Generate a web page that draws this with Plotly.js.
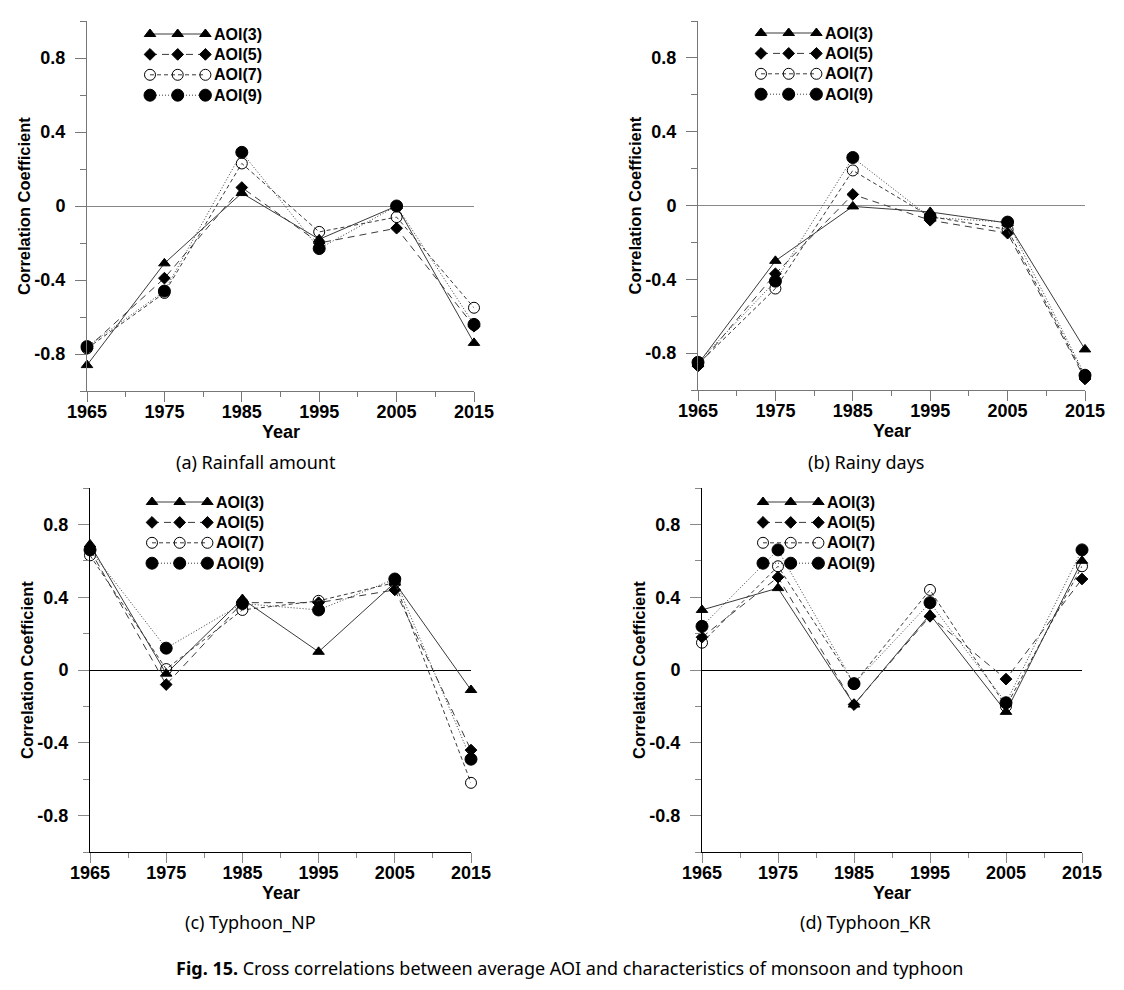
<!DOCTYPE html>
<html>
<head>
<meta charset="utf-8">
<script src="https://cdn.plot.ly/plotly-3.0.1.min.js"></script>
<style>html,body{margin:0;padding:0;background:#fff;}#chart{width:1124px;height:990px;}</style>
</head>
<body>
<div id="chart"></div>
<script>
// ---------------- data ----------------
const years = [1965, 1975, 1985, 1995, 2005, 2015];
const seriesNames = ["AOI(3)", "AOI(5)", "AOI(7)", "AOI(9)"];
const yTickVals = [-0.8, -0.4, 0, 0.4, 0.8];
const yTickText = ["-0.8", "-0.4", "0", "0.4", "0.8"];
const xTickVals = [1965, 1975, 1985, 1995, 2005, 2015];
const xTickText = ["1965", "1975", "1985", "1995", "2005", "2015"];
const panelCaptions = ["(a) Rainfall amount", "(b) Rainy days", "(c) Typhoon_NP", "(d) Typhoon_KR"];

// (a) Rainfall amount
const rainAOI3 = [-0.86, -0.31, 0.07, -0.18, 0.00, -0.74];
const rainAOI5 = [-0.77, -0.39, 0.10, -0.20, -0.12, -0.65];
const rainAOI7 = [-0.77, -0.47, 0.23, -0.14, -0.06, -0.55];
const rainAOI9 = [-0.76, -0.46, 0.29, -0.23, 0.00, -0.64];
// (b) Rainy days
const daysAOI3 = [-0.86, -0.30, -0.005, -0.035, -0.095, -0.78];
const daysAOI5 = [-0.87, -0.37, 0.06, -0.08, -0.15, -0.94];
const daysAOI7 = [-0.86, -0.45, 0.19, -0.06, -0.13, -0.93];
const daysAOI9 = [-0.85, -0.41, 0.26, -0.065, -0.09, -0.92];
// (c) Typhoon_NP
const npAOI3 = [0.69, -0.02, 0.39, 0.10, 0.48, -0.11];
const npAOI5 = [0.66, -0.08, 0.37, 0.37, 0.44, -0.44];
const npAOI7 = [0.63, 0.005, 0.33, 0.38, 0.48, -0.62];
const npAOI9 = [0.66, 0.12, 0.365, 0.33, 0.50, -0.49];
// (d) Typhoon_KR
const krAOI3 = [0.33, 0.45, -0.19, 0.305, -0.23, 0.60];
const krAOI5 = [0.18, 0.51, -0.19, 0.295, -0.05, 0.50];
const krAOI7 = [0.15, 0.57, -0.075, 0.44, -0.20, 0.57];
const krAOI9 = [0.24, 0.66, -0.075, 0.37, -0.18, 0.66];

const panelData = [
  [rainAOI3, rainAOI5, rainAOI7, rainAOI9],
  [daysAOI3, daysAOI5, daysAOI7, daysAOI9],
  [npAOI3, npAOI5, npAOI7, npAOI9],
  [krAOI3, krAOI5, krAOI7, krAOI9]
];

// ---------------- styles ----------------
const W = 1124, H = 990;
const lineCol = "#3a3a3a";
const styles = [
  {symbol: "triangle-up", size: 10, dash: "solid", fill: "#000"},
  {symbol: "diamond", size: 9, dash: "7px,5px", fill: "#000"},
  {symbol: "circle-open", size: 11, dash: "4px,3px", fill: "#000"},
  {symbol: "circle", size: 12, dash: "1px,2px", fill: "#000"}
];
// panel boxes in pixels: left, right, top, bottom
const boxes = [
  {l: 87, r: 474, t: 21, b: 391, axis: "#777", zero: "#888", tick: "#777"},
  {l: 698, r: 1085, t: 21, b: 390, axis: "#777", zero: "#888", tick: "#777"},
  {l: 90, r: 471, t: 488, b: 852, axis: "#000", zero: "#000", tick: "#888"},
  {l: 702, r: 1082, t: 488, b: 852, axis: "#000", zero: "#000", tick: "#888"}
];
const legendAnchors = [
  {x: 150, y: 34}, {x: 761, y: 33}, {x: 152, y: 502}, {x: 763, y: 502}
];
const tickFont = {family: "Liberation Sans, Arial, sans-serif", size: 18, color: "#000", weight: "bold"};

const traces = [];
const layout = {
  width: W, height: H,
  margin: {l: 0, r: 0, t: 0, b: 0},
  paper_bgcolor: "#fff", plot_bgcolor: "rgba(0,0,0,0)",
  showlegend: false,
  annotations: [],
  font: {family: "Liberation Sans, Arial, sans-serif", color: "#000"}
};

boxes.forEach((bx, p) => {
  const n = p + 1;
  const xa = "xaxis" + (n === 1 ? "" : n), ya = "yaxis" + (n === 1 ? "" : n);
  const xr = "x" + (n === 1 ? "" : n), yr = "y" + (n === 1 ? "" : n);
  layout[xa] = {
    domain: [bx.l / W, bx.r / W], anchor: yr,
    range: [1965, 2015], tickmode: "array", tickvals: xTickVals, ticktext: xTickText,
    ticks: "outside", ticklen: 10, tickwidth: 1, tickcolor: bx.tick,
    minor: {dtick: 5, tick0: 1965, ticks: "outside", ticklen: 5, tickcolor: bx.tick, showgrid: false},
    showline: true, linecolor: bx.axis, linewidth: 1, mirror: false,
    showgrid: false, zeroline: false, tickfont: tickFont, ticklabelstandoff: -6, fixedrange: true
  };
  layout[ya] = {
    domain: [1 - bx.b / H, 1 - bx.t / H], anchor: xr,
    range: [-1, 1], tickmode: "array", tickvals: yTickVals, ticktext: yTickText,
    ticks: "outside", ticklen: 11, tickwidth: 1, tickcolor: bx.tick,
    minor: {dtick: 0.2, tick0: -1, ticks: "outside", ticklen: 6, tickcolor: bx.tick, showgrid: false},
    showline: true, linecolor: bx.axis, linewidth: 1,
    showgrid: false, zeroline: true, zerolinecolor: bx.zero, zerolinewidth: 1,
    tickfont: tickFont, ticklabelstandoff: 6, fixedrange: true
  };
  panelData[p].forEach((vals, s) => {
    const st = styles[s];
    traces.push({
      type: "scatter", mode: "lines+markers", x: years, y: vals, xaxis: xr, yaxis: yr,
      name: seriesNames[s], cliponaxis: false,
      line: {color: lineCol, width: 1, dash: st.dash},
      marker: {symbol: st.symbol, size: st.size, color: st.fill, line: {color: "#000", width: 1}}
    });
  });
  // axis titles
  layout.annotations.push({
    xref: "paper", yref: "paper", x: (bx.l - 63) / W, y: 1 - ((bx.t + bx.b) / 2) / H,
    text: "<b>Correlation Coefficient</b>", textangle: -90, showarrow: false,
    font: {family: "Liberation Sans, Arial, sans-serif", size: 16.5, color: "#000"},
    xanchor: "center", yanchor: "middle"
  });
  layout.annotations.push({
    xref: "paper", yref: "paper", x: (bx.l + bx.r) / 2 / W, y: 1 - (bx.b + 41) / H,
    text: "<b>Year</b>", showarrow: false,
    font: {family: "Liberation Sans, Arial, sans-serif", size: 18, color: "#000"},
    xanchor: "center", yanchor: "middle"
  });
});

// legend overlay axis in page pixels
layout.xaxis5 = {domain: [0, 1], range: [0, W], visible: false, fixedrange: true, anchor: "y5"};
layout.yaxis5 = {domain: [0, 1], range: [H, 0], visible: false, fixedrange: true, anchor: "x5"};
const legStep = 27.7, rowStep = 20.4;
legendAnchors.forEach((a) => {
  seriesNames.forEach((nm, s) => {
    const st = styles[s];
    const yy = a.y + s * rowStep;
    traces.push({
      type: "scatter", mode: "lines+markers", xaxis: "x5", yaxis: "y5", cliponaxis: false,
      x: [a.x, a.x + legStep, a.x + 2 * legStep], y: [yy, yy, yy], hoverinfo: "skip",
      line: {color: lineCol, width: 1, dash: st.dash},
      marker: {symbol: st.symbol, size: st.size, color: st.fill, line: {color: "#000", width: 1}}
    });
    layout.annotations.push({
      xref: "x5", yref: "y5", x: a.x + 2 * legStep + 7, y: yy, text: "<b>" + nm + "</b>",
      showarrow: false, xanchor: "left", yanchor: "middle",
      font: {family: "Liberation Sans, Arial, sans-serif", size: 16, color: "#000"}
    });
  });
});

// captions
const capPos = [{x: 256, y: 462}, {x: 866, y: 462}, {x: 250, y: 922}, {x: 865, y: 922}];
panelCaptions.forEach((c, i) => {
  layout.annotations.push({
    xref: "paper", yref: "paper", x: capPos[i].x / W, y: 1 - capPos[i].y / H, text: c,
    showarrow: false, xanchor: "center", yanchor: "middle",
    font: {family: "Noto Sans, sans-serif", size: 18, color: "#000"}
  });
});
layout.annotations.push({
  xref: "paper", yref: "paper", x: 569 / W, y: 1 - 968 / H,
  text: "<b>Fig. 15.</b> Cross correlations between average AOI and characteristics of monsoon and typhoon",
  showarrow: false, xanchor: "center", yanchor: "middle",
  font: {family: "Noto Sans, sans-serif", size: 18, color: "#000"}
});

Plotly.newPlot("chart", traces, layout, {staticPlot: true, displayModeBar: false});
</script>
</body>
</html>
